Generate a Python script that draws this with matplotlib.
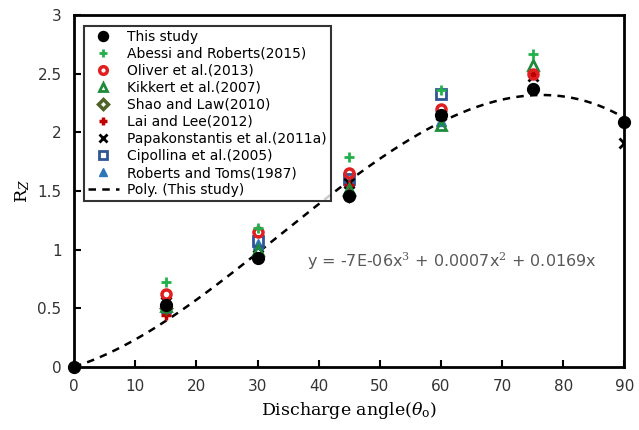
import numpy as np
import matplotlib
matplotlib.use("Agg")
import matplotlib.pyplot as plt

plt.rcParams["mathtext.fontset"] = "dejavuserif"

# discharge angles (degrees)
angles = [0, 15, 30, 45, 60, 75, 90]

this_study = [0, 0.53, 0.93, 1.46, 2.15, 2.37, 2.09]

abessi_x = [15, 30, 45, 60, 75]
abessi_y = [0.72, 1.18, 1.79, 2.36, 2.67]
oliver_x = [15, 30, 45, 60, 75]
oliver_y = [0.62, 1.15, 1.65, 2.20, 2.50]
kikkert_x = [15, 30, 45, 60, 75]
kikkert_y = [0.52, 1.00, 1.52, 2.06, 2.57]
shao_x = [15, 45]
shao_y = [0.50, 1.46]
lai_x = [15, 30, 45, 60, 75]
lai_y = [0.44, 0.93, 1.55, 2.13, 2.50]
papa_x = [15, 30, 45, 60, 75, 90]
papa_y = [0.55, 0.95, 1.57, 2.15, 2.48, 1.91]
cipo_x = [30, 45, 60]
cipo_y = [1.07, 1.60, 2.33]
roberts_x = [15, 30, 45, 60]
roberts_y = [0.50, 1.05, 1.58, 2.10]

eq_text = "y = -7E-06x$^3$ + 0.0007x$^2$ + 0.0169x"

fig = plt.figure(figsize=(6.39, 4.30), dpi=100)
ax = fig.add_axes([0.116, 0.147, 0.861, 0.818])

# cubic trend through origin, fitted on this study's points
xa = np.array(angles, dtype=float)
A = np.column_stack([xa**3, xa**2, xa])
coef = np.linalg.lstsq(A, np.array(this_study), rcond=None)[0]
xs = np.linspace(0, 90, 200)
ax.plot(xs, coef[0]*xs**3 + coef[1]*xs**2 + coef[2]*xs, "k--", lw=1.8,
        dashes=(3, 2.5), zorder=2, label="Poly. (This study)")

ms = 6.5
ax.plot(roberts_x, roberts_y, "^", color="#2e75b6", ms=ms, ls="none", zorder=3, label="Roberts and Toms(1987)")
ax.plot(cipo_x, cipo_y, "s", mfc="none", mec="#2f5597", mew=2, ms=ms, ls="none", zorder=3, label="Cipollina et al.(2005)")
ax.plot(papa_x, papa_y, "x", color="black", mew=2, ms=ms, ls="none", zorder=3, label="Papakonstantis et al.(2011a)")
ax.plot(lai_x, lai_y, "+", color="#c00000", mew=2.5, ms=ms+1, ls="none", zorder=3, label="Lai and Lee(2012)")
ax.plot(shao_x, shao_y, "D", mfc="none", mec="#4f6228", mew=2.5, ms=5.5, ls="none", zorder=3, label="Shao and Law(2010)")
ax.plot(kikkert_x, kikkert_y, "^", mfc="none", mec="#1e8c3a", mew=2, ms=ms, ls="none", zorder=3, label="Kikkert et al.(2007)")
ax.plot(oliver_x, oliver_y, "o", mfc="none", mec="#e02020", mew=2.5, ms=ms, ls="none", zorder=3, label="Oliver et al.(2013)")
ax.plot(abessi_x, abessi_y, "+", color="#22b04b", mew=2, ms=ms+1, ls="none", zorder=3, label="Abessi and Roberts(2015)")
ax.plot(angles, this_study, "o", color="black", ms=8.5, ls="none", zorder=4, clip_on=False, label="This study")

handles, labels = ax.get_legend_handles_labels()
order = ["This study", "Abessi and Roberts(2015)", "Oliver et al.(2013)", "Kikkert et al.(2007)",
         "Shao and Law(2010)", "Lai and Lee(2012)", "Papakonstantis et al.(2011a)",
         "Cipollina et al.(2005)", "Roberts and Toms(1987)", "Poly. (This study)"]
hmap = dict(zip(labels, handles))
leg = ax.legend([hmap[k] for k in order], order, loc="upper left", bbox_to_anchor=(0.005, 0.99),
                fontsize=10, frameon=True, fancybox=False, edgecolor="black",
                handlelength=2.2, labelspacing=0.22, borderpad=0.3, handletextpad=0.6,
                markerscale=0.85)
leg.get_frame().set_linewidth(1.5)

ax.text(0.95, 0.3, eq_text, transform=ax.transAxes, ha="right", va="center",
        fontsize=11.5, color="#595959")

ax.set_xlim(0, 90)
ax.set_ylim(0, 3)
ax.set_xticks(np.arange(0, 91, 10))
ax.set_yticks(np.arange(0, 3.01, 0.5))
ax.set_yticklabels(["0", "0.5", "1", "1.5", "2", "2.5", "3"])
ax.tick_params(direction="in", length=5, width=1.5, labelsize=11, pad=9)
for s in ax.spines.values():
    s.set_linewidth(2)

ax.set_xlabel(r"Discharge angle($\theta_{\mathrm{o}}$)", family="DejaVu Serif", fontsize=12.5)
ax.set_ylabel(r"R$_{Z}$", family="DejaVu Serif", fontsize=12.5, labelpad=4)

for t in ax.get_xticklabels() + ax.get_yticklabels():
    t.set_color("#333333")

fig.savefig("out.png", dpi=100)
